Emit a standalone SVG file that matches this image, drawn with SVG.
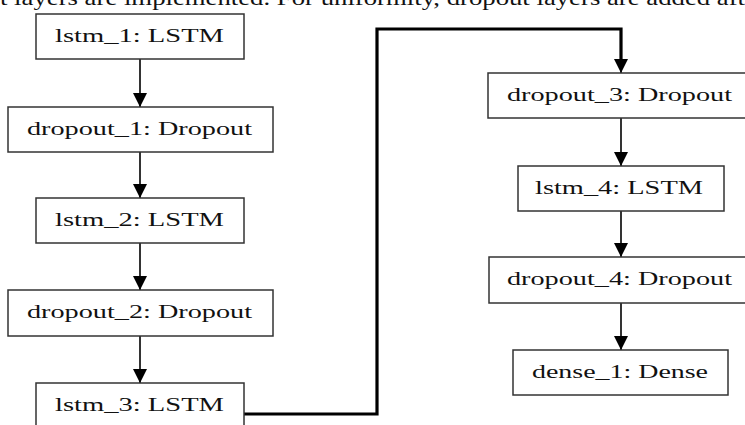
<svg xmlns="http://www.w3.org/2000/svg" width="745" height="425" viewBox="0 0 745 425">
<style>
.box{fill:#fff;stroke:#333;stroke-width:1.5}
.lbl{font-family:"Liberation Serif","Times New Roman",serif;font-size:19px;fill:#111;text-anchor:start}
.edge{fill:none;stroke:#000;stroke-width:1.6}
.thick{fill:none;stroke:#000;stroke-width:3.2}
.cap{font-family:"Liberation Serif","Times New Roman",serif;font-size:21px;fill:#111}
</style>
<defs>
<marker id="ah" markerWidth="16" markerHeight="14" refX="14" refY="7" orient="auto" markerUnits="userSpaceOnUse">
<path d="M0,0 L14,7 L0,14 Z" fill="#000"/>
</marker>
</defs>
<rect width="745" height="425" fill="#fff"/>
<text class="cap" x="0" y="5" textLength="745" lengthAdjust="spacingAndGlyphs">t layers are implemented. For uniformity, dropout layers are added aft</text>
<g id="connectors">
<line class="edge" x1="140" y1="59" x2="140" y2="107" marker-end="url(#ah)"/>
<line class="edge" x1="140" y1="152" x2="140" y2="198" marker-end="url(#ah)"/>
<line class="edge" x1="140" y1="243" x2="140" y2="290" marker-end="url(#ah)"/>
<line class="edge" x1="140" y1="336" x2="140" y2="383" marker-end="url(#ah)"/>
<path class="thick" d="M244,414 L377,414 L377,29 L621,29 L621,62"/>
<line class="edge" x1="621" y1="60" x2="621" y2="73" marker-end="url(#ah)"/>
<line class="edge" x1="621" y1="118" x2="621" y2="166" marker-end="url(#ah)"/>
<line class="edge" x1="621" y1="211" x2="621" y2="257" marker-end="url(#ah)"/>
<line class="edge" x1="621" y1="303" x2="621" y2="350" marker-end="url(#ah)"/>
</g>
<g id="lstm_1"><rect class="box" x="36" y="14" width="208" height="45"/><text class="lbl" x="55" y="42" textLength="169" lengthAdjust="spacingAndGlyphs">lstm_1: LSTM</text></g>
<g id="dropout_1"><rect class="box" x="8" y="107" width="265" height="45"/><text class="lbl" x="27" y="135" textLength="225" lengthAdjust="spacingAndGlyphs">dropout_1: Dropout</text></g>
<g id="lstm_2"><rect class="box" x="36" y="198" width="208" height="45"/><text class="lbl" x="55" y="226" textLength="169" lengthAdjust="spacingAndGlyphs">lstm_2: LSTM</text></g>
<g id="dropout_2"><rect class="box" x="8" y="290" width="265" height="46"/><text class="lbl" x="27" y="318" textLength="225" lengthAdjust="spacingAndGlyphs">dropout_2: Dropout</text></g>
<g id="lstm_3"><rect class="box" x="36" y="383" width="208" height="45"/><text class="lbl" x="55" y="411" textLength="169" lengthAdjust="spacingAndGlyphs">lstm_3: LSTM</text></g>
<g id="dropout_3"><rect class="box" x="488" y="73" width="268" height="45"/><text class="lbl" x="507" y="101" textLength="225" lengthAdjust="spacingAndGlyphs">dropout_3: Dropout</text></g>
<g id="lstm_4"><rect class="box" x="518" y="166" width="206" height="45"/><text class="lbl" x="535" y="194" textLength="168" lengthAdjust="spacingAndGlyphs">lstm_4: LSTM</text></g>
<g id="dropout_4"><rect class="box" x="489" y="257" width="268" height="46"/><text class="lbl" x="507" y="285" textLength="225" lengthAdjust="spacingAndGlyphs">dropout_4: Dropout</text></g>
<g id="dense_1"><rect class="box" x="513" y="350" width="215" height="45"/><text class="lbl" x="532" y="378" textLength="176" lengthAdjust="spacingAndGlyphs">dense_1: Dense</text></g>
</svg>
